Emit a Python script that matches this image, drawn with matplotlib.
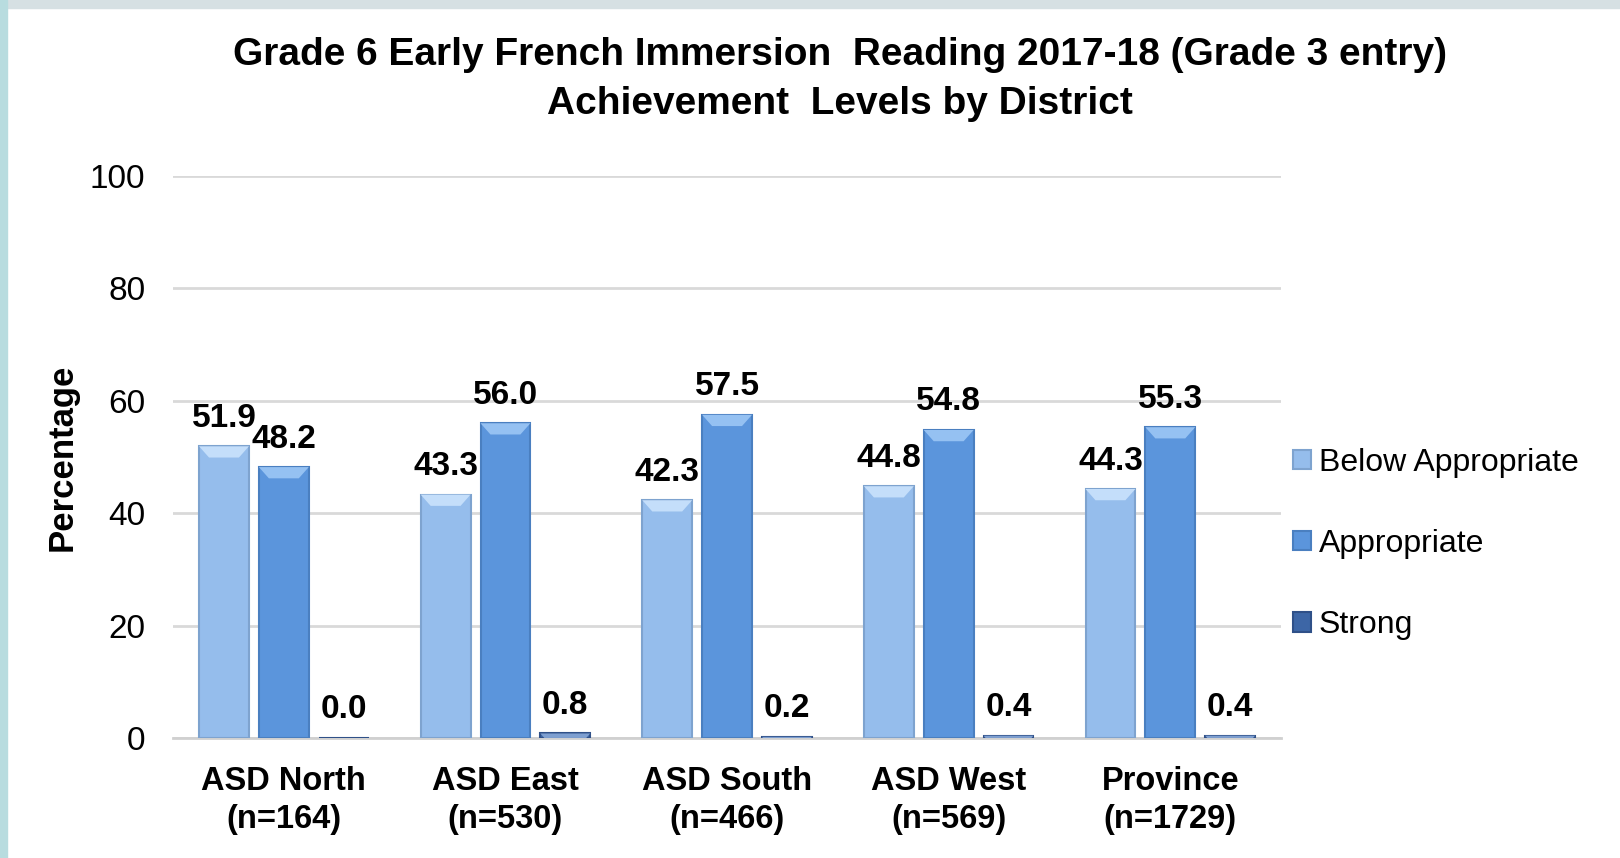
import numpy as np
import matplotlib
matplotlib.use('Agg')
import matplotlib.pyplot as plt
from matplotlib.patches import Rectangle

plt.rcParams['font.family'] = ['Liberation Sans', 'DejaVu Sans']

# data
districts = ['ASD North\n(n=164)', 'ASD East\n(n=530)', 'ASD South\n(n=466)',
             'ASD West\n(n=569)', 'Province\n(n=1729)']
below = [51.9, 43.3, 42.3, 44.8, 44.3]
appropriate = [48.2, 56.0, 57.5, 54.8, 55.3]
strong = [0.0, 0.8, 0.2, 0.4, 0.4]
levels = ['Below Appropriate', 'Appropriate', 'Strong']

colors = ['#95bdec', '#5b95dc', '#3d66a6']
tops = ['#c4defa', '#95c1f2', '#7e9fd0']
edges = ['#7ea3cf', '#4a7fc0', '#2f5088']

fig = plt.figure(figsize=(16.2, 8.58), dpi=100)
fig.patch.set_facecolor('white')
# frame strips on top and left
fig.patches.append(Rectangle((0, 1 - 8 / 858), 1, 8 / 858, transform=fig.transFigure,
                             color='#d6e0e3', zorder=0))
fig.patches.append(Rectangle((0, 0), 7 / 1620, 1, transform=fig.transFigure,
                             color='#b8dcdf', zorder=0))

ax = fig.add_axes([0.1068, 0.1399, 0.6840, 0.6550])
x = np.arange(len(districts))
pitch = 0.27
width = 0.225
bev_h = 2.0     # bevel height in data units
bev_d = 0.045   # bevel inset in x units

for i, (vals, c, t, e, lab) in enumerate(zip([below, appropriate, strong], colors, tops, edges, levels)):
    pos = x + (i - 1) * pitch
    ax.bar(pos, vals, width, color=c, edgecolor=e, linewidth=1.5, label=lab, zorder=3)
    for p, v in zip(pos, vals):
        # chamfer highlight at top of each bar
        h = min(v, bev_h)
        if h > 0:
            l, r = p - width / 2, p + width / 2
            d = bev_d * h / bev_h
            ax.fill([l, r, r - d, l + d], [v, v, v - h, v - h], color=t, lw=0, zorder=4)
        ax.annotate(f'{v:.1f}', (p, v), xytext=(0, 9), textcoords='offset points',
                    ha='center', va='bottom', fontsize=24, fontweight='bold', zorder=5)

ax.set_ylim(0, 100)
ax.set_xlim(-0.5, len(districts) - 0.5)
ax.set_yticks(range(0, 101, 20))
ax.grid(axis='y', color='#d9d9d9', linewidth=2, zorder=0)
ax.set_axisbelow(True)
for s in ['top', 'right', 'left']:
    ax.spines[s].set_visible(False)
ax.spines['bottom'].set_color('#d0d0d0')
ax.spines['bottom'].set_linewidth(2)
ax.tick_params(axis='both', length=0)
ax.tick_params(axis='y', labelsize=24, pad=20)
ax.set_xticks(x)
ax.set_xticklabels(districts, fontsize=23.5, fontweight='bold', linespacing=1.3)
ax.tick_params(axis='x', pad=20)
ax.set_ylabel('Percentage', fontsize=25, fontweight='bold', labelpad=8)

fig.text(0.5185, 0.907, 'Grade 6 Early French Immersion  Reading 2017-18 (Grade 3 entry)\n'
         'Achievement  Levels by District', ha='center', va='center',
         fontsize=28, fontweight='bold', linespacing=1.45)

leg = ax.legend(loc='center left', bbox_to_anchor=(0.985, 0.345), frameon=False,
                fontsize=23, handlelength=0.55, handleheight=0.55, handletextpad=0.25,
                labelspacing=1.6)

fig.savefig('out.png', dpi=100, facecolor='white')
